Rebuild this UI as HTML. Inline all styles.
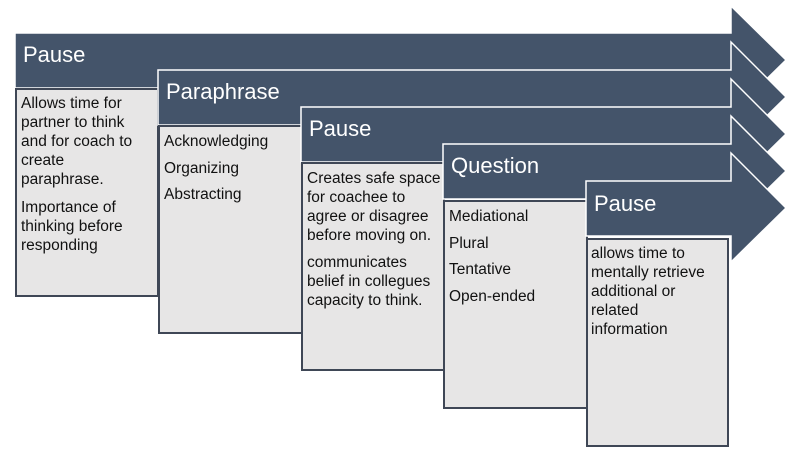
<!DOCTYPE html>
<html><head><meta charset="utf-8"><style>
html,body{margin:0;padding:0;background:#fff;}
svg{display:block;}
text{font-family:"Liberation Sans",sans-serif;}
.h{fill:#fff;font-size:22px;}
.b{fill:#111;font-size:15.5px;}
</style></head><body>
<svg width="801" height="457" viewBox="0 0 801 457" xmlns="http://www.w3.org/2000/svg">
<g stroke="#fff" stroke-width="1.5" fill="#44546a">
<polygon points="15,33 731,33 731,6 786,60 731,114 731,88 15,88"/>
</g>
<rect x="16" y="89" width="142" height="207" fill="#e7e6e6" stroke="#3f4756" stroke-width="2"/>
<g stroke="#fff" stroke-width="1.5" fill="#44546a">
<polygon points="158,70 731,70 731,42 786,97 731,151 731,125 158,125"/>
</g>
<rect x="159" y="126" width="143" height="207" fill="#e7e6e6" stroke="#3f4756" stroke-width="2"/>
<g stroke="#fff" stroke-width="1.5" fill="#44546a">
<polygon points="301,107 731,107 731,79 786,134 731,188 731,162 301,162"/>
</g>
<rect x="302" y="163" width="142" height="207" fill="#e7e6e6" stroke="#3f4756" stroke-width="2"/>
<g stroke="#fff" stroke-width="1.5" fill="#44546a">
<polygon points="443,144 731,144 731,116 786,171 731,225 731,199 443,199"/>
</g>
<rect x="444" y="201" width="143" height="207" fill="#e7e6e6" stroke="#3f4756" stroke-width="2"/>
<g stroke="#fff" stroke-width="1.5" fill="#44546a">
<polygon points="586,181 731,181 731,153 786,208 731,262 731,236 586,236"/>
</g>
<rect x="587" y="239" width="141" height="207" fill="#e7e6e6" stroke="#3f4756" stroke-width="2"/>

<text class="h" x="23" y="62">Pause</text>
<text class="h" x="166" y="99">Paraphrase</text>
<text class="h" x="309" y="136">Pause</text>
<text class="h" x="451" y="173">Question</text>
<text class="h" x="594" y="211">Pause</text>

<g class="b">
<text class="b" x="21" y="108">Allows time for</text>
<text class="b" x="21" y="127">partner to think</text>
<text class="b" x="21" y="146">and for coach to</text>
<text class="b" x="21" y="165">create</text>
<text class="b" x="21" y="184">paraphrase.</text>
<text class="b" x="21" y="212">Importance of</text>
<text class="b" x="21" y="231">thinking before</text>
<text class="b" x="21" y="250">responding</text>

<text class="b" x="164" y="146">Acknowledging</text>
<text class="b" x="164" y="173">Organizing</text>
<text class="b" x="164" y="199">Abstracting</text>

<text class="b" x="307" y="183">Creates safe space</text>
<text class="b" x="307" y="202">for coachee to</text>
<text class="b" x="307" y="221">agree or disagree</text>
<text class="b" x="307" y="240">before moving on.</text>
<text class="b" x="307" y="267">communicates</text>
<text class="b" x="307" y="286">belief in collegues</text>
<text class="b" x="307" y="305">capacity to think.</text>

<text class="b" x="449" y="221">Mediational</text>
<text class="b" x="449" y="248">Plural</text>
<text class="b" x="449" y="274">Tentative</text>
<text class="b" x="449" y="301">Open-ended</text>

<text class="b" x="591" y="258">allows time to</text>
<text class="b" x="591" y="277">mentally retrieve</text>
<text class="b" x="591" y="296">additional or</text>
<text class="b" x="591" y="315">related</text>
<text class="b" x="591" y="334">information</text>
</g>
</svg>
</body></html>
